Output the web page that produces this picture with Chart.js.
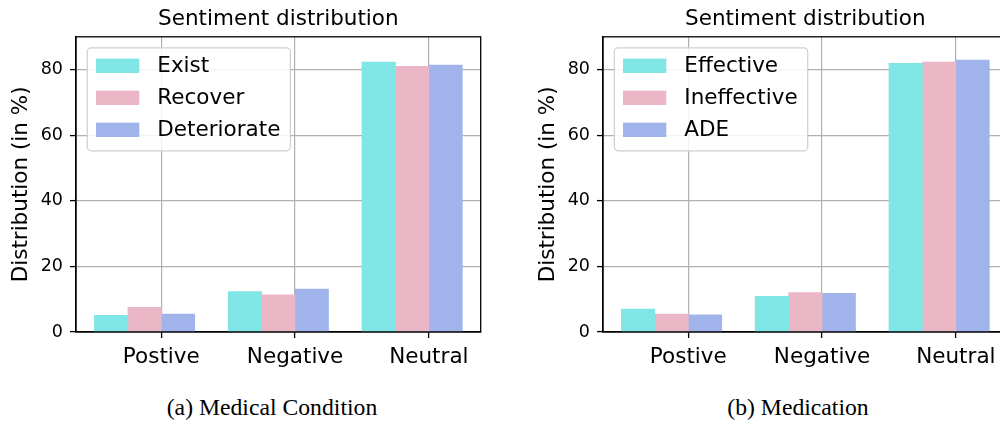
<!DOCTYPE html>
<html>
<head>
<meta charset="utf-8">
<script src="https://cdn.jsdelivr.net/npm/chart.js@4"></script>
<style>
  html, body { margin: 0; padding: 0; background: #fff; }
  #page { position: relative; width: 1000px; height: 426px; overflow: hidden; }
  canvas { position: absolute; top: 0; }
  .caption { position: absolute; top: 396px; width: 400px; text-align: center;
             font-family: "Liberation Serif", serif; font-size: 23.7px; line-height: 1; color: #000; }
</style>
</head>
<body>
<div id="page">
  <canvas id="condition" width="500" height="372" style="left:0px"></canvas>
  <canvas id="medication" width="500" height="372" style="left:527px"></canvas>
  <div class="caption" style="left:72px">(a) Medical Condition</div>
  <div class="caption" style="left:598px">(b) Medication</div>
</div>
<script>
// data
const categories = ["Postive", "Negative", "Neutral"];
const yTicks = [0, 20, 40, 60, 80];

const conditionLabels = ["Exist", "Recover", "Deteriorate"];
const exist = [5.1, 12.3, 82.3];
const recover = [7.5, 11.3, 81.0];
const deteriorate = [5.5, 13.1, 81.4];

const medicationLabels = ["Effective", "Ineffective", "ADE"];
const effective = [7.0, 10.9, 81.9];
const ineffective = [5.5, 12.0, 82.3];
const ade = [5.2, 11.8, 82.9];

const colors = ["#7fe5e5", "#ebb6c6", "#a0b3eb"];
const barWidth = 0.25;

Chart.defaults.font.family = "'DejaVu Sans', sans-serif";
Chart.defaults.color = "#000";

// spines on all sides + the boxed legend inside the plot
const frameAndLegend = {
    id: "frameAndLegend",
    afterDraw(chart) {
        const {ctx, chartArea} = chart;
        ctx.save();
        ctx.strokeStyle = "#000";
        ctx.lineWidth = 1.3;
        ctx.strokeRect(chartArea.left, chartArea.top, chartArea.width, chartArea.height);

        ctx.font = "21.5px 'DejaVu Sans'";
        const names = chart.data.datasets.map(d => d.label);
        const w = 70 + Math.max(...names.map(n => ctx.measureText(n).width)) + 10;
        const x = chartArea.left + 11.3, y = chartArea.top + 11, h = 103;
        ctx.beginPath();
        ctx.roundRect(x, y, w, h, 4);
        ctx.fillStyle = "rgba(255,255,255,0.85)";
        ctx.fill();
        ctx.strokeStyle = "#cfcfcf";
        ctx.lineWidth = 1.2;
        ctx.stroke();
        chart.data.datasets.forEach((ds, i) => {
            const cy = y + 18 + i * 32;
            ctx.fillStyle = ds.backgroundColor;
            ctx.fillRect(x + 8.7, cy - 7.2, 43.3, 14.4);
            ctx.fillStyle = "#000";
            ctx.textBaseline = "middle";
            ctx.textAlign = "left";
            ctx.fillText(ds.label, x + 70, cy + 0.5);
        });
        ctx.restore();
    }
};

function makeDatasets(labels, series){
    return series.map((values, d) => ({
        label: labels[d],
        backgroundColor: colors[d],
        borderWidth: 0,
        grouped: false,
        categoryPercentage: 1,
        barPercentage: 1,
        // bars sit left/right of the category tick like matplotlib's offsets
        data: values.map((v, i) => ({x: i + (d - 1.5) * barWidth, y: v}))
    }));
}

function makeChart(id, labels, series){
    new Chart(document.getElementById(id), {
        type: "bar",
        data: { datasets: makeDatasets(labels, series) },
        plugins: [frameAndLegend],
        options: {
            responsive: false,
            animation: false,
            layout: { padding: {left: 0, right: 19.3, top: 0, bottom: 0} },
            plugins: {
                legend: { display: false },
                tooltip: { enabled: false },
                title: {
                    display: true,
                    text: "Sentiment distribution",
                    fullSize: false,
                    font: {size: 21.5, weight: "normal"},
                    color: "#000",
                    padding: {top: 7, bottom: 4}
                }
            },
            scales: {
                x: {
                    type: "linear",
                    min: -0.6375,
                    max: 2.3875,
                    offset: false,
                    z: 1,
                    afterBuildTicks: scale => { scale.ticks = categories.map((c, i) => ({value: i})); },
                    afterFit: scale => { scale.height = 40; },
                    ticks: {
                        callback: v => categories[v],
                        autoSkip: false,
                        maxRotation: 0,
                        padding: 7,
                        font: {size: 21.5},
                        color: "#000"
                    },
                    grid: {color: "#b0b0b0", lineWidth: 1.2, offset: false, tickLength: 6, tickColor: "#000", tickWidth: 1.3},
                    border: {display: true, color: "#000", width: 1.3}
                },
                y: {
                    min: 0,
                    max: 90,
                    z: 1,
                    afterBuildTicks: scale => { scale.ticks = yTicks.map(v => ({value: v})); },
                    afterFit: scale => { scale.width = 76; },
                    ticks: { padding: 7, font: {size: 17.5}, color: "#000" },
                    title: {
                        display: true,
                        text: "Distribution (in %)",
                        font: {size: 21.5},
                        color: "#000",
                        padding: {top: 9, bottom: 0}
                    },
                    grid: {color: "#b0b0b0", lineWidth: 1.2, tickLength: 6, tickColor: "#000", tickWidth: 1.3},
                    border: {display: true, color: "#000", width: 1.3}
                }
            }
        }
    });
}

makeChart("condition", conditionLabels, [exist, recover, deteriorate]);
makeChart("medication", medicationLabels, [effective, ineffective, ade]);
</script>
</body>
</html>
